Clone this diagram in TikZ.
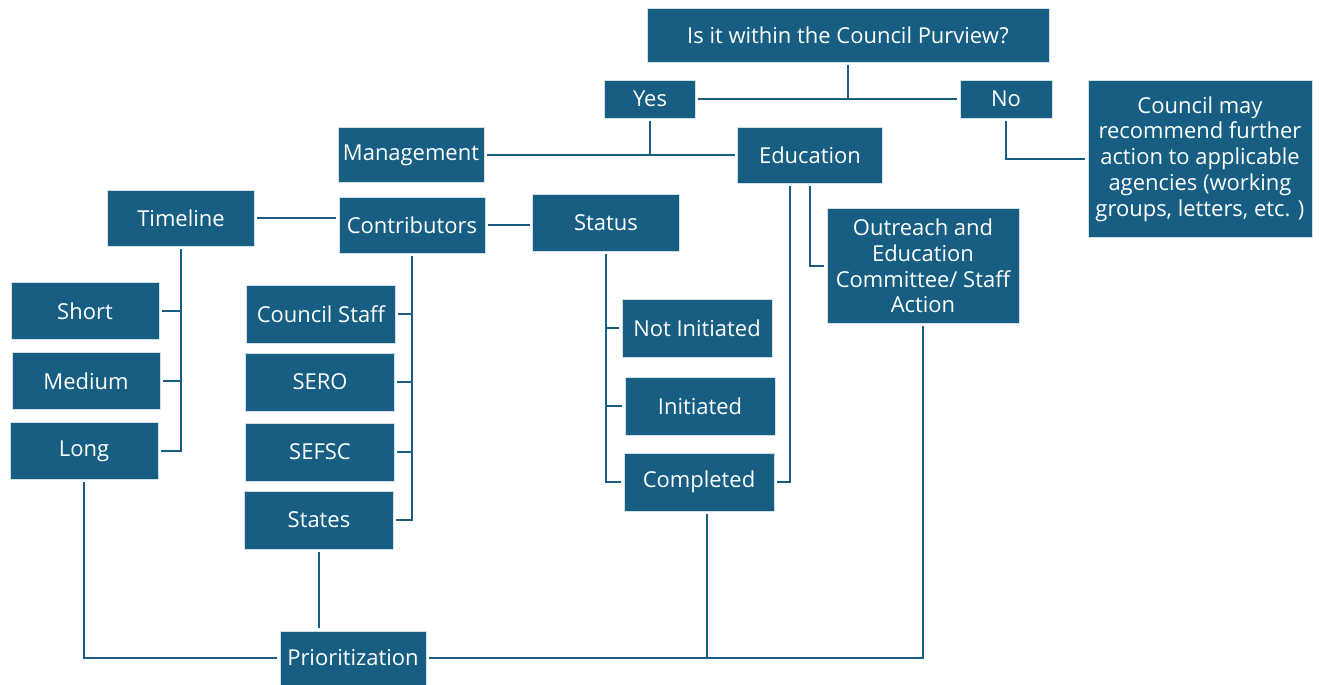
\documentclass[tikz,border=0pt]{standalone}
\usepackage{fontspec}
\setmainfont{Open Sans}
\usetikzlibrary{positioning}
\definecolor{cblue}{RGB}{23, 94, 130}
\tikzset{box/.style 2 args = {draw=white!80!cblue, line width=0.4pt, fill=cblue,
                             text=white, align=center, inner sep=0pt,
                             outer sep=0.06cm, font=\fontsize{12.5}{14.7}\selectfont,
                             minimum width=#1cm, minimum height=#2cm},
         link/.style = {draw=cblue, line width=1.4pt}}

\begin{document}
\begin{tikzpicture}[x=0.02cm, y=-0.02cm]
      \useasboundingbox (0, 0) rectangle (1320, 685);
      % top of the tree
      \node [box={8.04}{1.08}] (purview) at (848, 35) {Is it within the Council Purview?};
      \node [box={1.82}{0.76}] (yes) at (650, 99) {Yes};
      \node [box={1.84}{0.76}] (no) at (1006, 99) {No};
      \node [box={4.48}{3.14}] (council) at (1200, 159)
            {Council may\\recommend further\\action to applicable\\agencies (working\\groups, letters, etc. )};
      \node [box={2.92}{1.10}] (management) at (411, 155) {Management};
      \node [box={2.90}{1.12}] (education) at (810, 155) {Education};
      \node [box={2.94}{1.12}] (timeline) at (181, 218) {Timeline};
      \node [box={2.92}{1.12}] (contributors) at (412, 225) {Contributors};
      \node [box={2.94}{1.14}] (status) at (606, 223) {Status};
      \node [box={3.84}{2.30}] (outreach) at (923, 266)
            {Outreach and\\Education\\Committee/ Staff\\Action};
      % timeline
      \node [box={2.96}{1.14}] (short) at (85, 311) {Short};
      \node [box={2.96}{1.14}] (medium) at (86, 381) {Medium};
      \node [box={2.96}{1.14}] (long) at (84, 451) {Long};
      % contributors
      \node [box={2.98}{1.16}] (staff) at (321, 314) {Council Staff};
      \node [box={2.98}{1.16}] (sero) at (320, 382) {SERO};
      \node [box={2.98}{1.16}] (sefsc) at (320, 452) {SEFSC};
      \node [box={2.98}{1.16}] (states) at (319, 520) {States};
      % status
      \node [box={3.00}{1.16}] (notinit) at (697, 328) {Not Initiated};
      \node [box={3.00}{1.16}] (init) at (700, 406) {Initiated};
      \node [box={3.00}{1.16}] (completed) at (699, 482) {Completed};
      \node [box={2.92}{1.08}] (prior) at (353, 658) {Prioritization};

      \draw [link] (yes.east) -- (no.west);
      \draw [link] (purview.south) -- (purview.south |- yes.east);
      \draw [link] (management.east) -- (education.west);
      \draw [link] (yes.south) -- (yes.south |- management.east);
      \draw [link] (no.south) |- (council.west);
      \draw [link] (timeline.east) -- (timeline.east -| contributors.west);
      \draw [link] (contributors.east) -- (contributors.east -| status.west);
      \draw [link] (timeline.south) |- (long.east);
      \foreach \n in {short, medium}
        \draw [link] (\n.east) -- (\n.east -| timeline.south);
      \draw [link] (contributors.south) |- (states.east);
      \foreach \n in {staff, sero, sefsc}
        \draw [link] (\n.east) -- (\n.east -| contributors.south);
      \draw [link] (status.south) |- (completed.west);
      \foreach \n in {notinit, init}
        \draw [link] (\n.west) -- (\n.west -| status.south);
      \draw [link] ([xshift=-0.4cm]education.south) |- (completed.east);
      \draw [link] (education.south) |- (outreach.west);
      \draw [link] (outreach.south) |- (prior.east);
      \draw [link] ([xshift=0.16cm]completed.south) -- ([xshift=0.16cm]completed.south |- prior.east);
      \draw [link] (states.south) -- (states.south |- prior.north);
      \draw [link] (long.south) |- (prior.west);
    \end{tikzpicture}
\end{document}
